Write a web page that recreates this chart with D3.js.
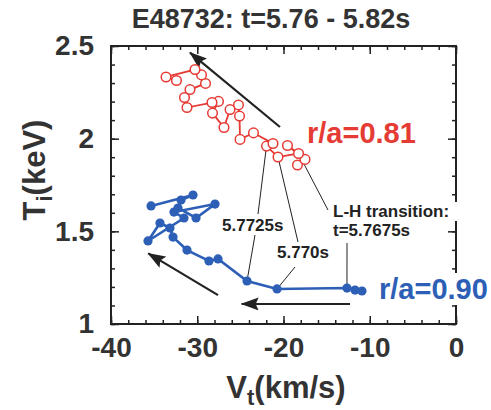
<!DOCTYPE html>
<html>
<head>
<meta charset="utf-8">
<script src="https://cdn.jsdelivr.net/npm/d3@7"></script>
<style>
  body { margin: 0; background: #fff; }
  svg { display: block; font-family: "Liberation Sans", Arial, sans-serif; font-weight: bold; }
</style>
</head>
<body>
<div id="chart"></div>
<script>
const title = "E48732: t=5.76 - 5.82s";
const xTicks = [-40, -30, -20, -10, 0];
const yTicks = [1, 1.5, 2, 2.5];

// r/a = 0.81, in time order (t = 5.76s onwards)
const redVt = [-18.38, -17.51, -19.54, -18.26, -20.64, -21.97, -21.22, -23.48, -25.04, -25.10, -25.22, -26.20,
               -26.90, -28.23, -27.54, -28.29, -31.19, -31.48, -30.84, -29.04, -29.51, -30.26, -33.62, -32.41];
const redTi = [1.858, 1.888, 1.963, 1.920, 1.901, 1.960, 1.974, 2.031, 1.996, 2.122, 2.182, 2.157,
               2.060, 2.138, 2.201, 2.195, 2.168, 2.222, 2.265, 2.298, 2.344, 2.373, 2.333, 2.314];

// r/a = 0.90
const blueVt = [-10.90, -11.71, -12.64, -20.75, -24.23, -27.59, -28.64, -31.19, -32.81, -33.16, -34.32, -35.71,
                -31.54, -32.70, -27.94, -30.14, -32.23, -31.88, -30.49, -35.36];
const blueTi = [1.178, 1.183, 1.194, 1.189, 1.232, 1.351, 1.340, 1.399, 1.469, 1.518, 1.545, 1.448,
                1.572, 1.604, 1.647, 1.572, 1.626, 1.669, 1.696, 1.637];

// index of the marked times in each series: L-H (5.7675s), 5.770s, 5.7725s
const redMarks = [3, 4, 5];
const blueMarks = [2, 3, 4];

// trend arrows [Vt0, Ti0, Vt1, Ti1]
const arrows = [
  [-20.41, 2.063, -30.84, 2.464],
  [-27.59, 1.156, -35.68, 1.381],
  [-12.29, 1.108, -24.85, 1.108]
];

const width = 491, height = 410;
const margin = { top: 46, right: 35, bottom: 86, left: 111 };
const red = "#e63b35", blue = "#2d5fb6", ink = "#333";

const svg = d3.select("#chart").append("svg")
  .attr("width", width)
  .attr("height", height);

const x = d3.scaleLinear().domain([-40, 0]).range([margin.left, width - margin.right]);
const y = d3.scaleLinear().domain([1, 2.5]).range([height - margin.bottom, margin.top]);

svg.append("defs").append("marker")
  .attr("id", "head")
  .attr("markerUnits", "userSpaceOnUse")
  .attr("viewBox", "0 0 18 13")
  .attr("refX", 17).attr("refY", 6.5)
  .attr("markerWidth", 18).attr("markerHeight", 13)
  .attr("orient", "auto")
  .append("path")
  .attr("d", "M0,0L18,6.5L0,13L3,6.5Z")
  .attr("fill", "#222");

// inward ticks on all four sides, minor and major
const xb = height - margin.bottom, xt = margin.top;
const yl = margin.left, yr = width - margin.right;
const tickStyle = g => {
  g.select(".domain").remove();
  g.selectAll("line").attr("stroke", "#222").attr("stroke-width", 1.5);
};
const xMinor = d3.range(-40, 0.1, 2), yMinor = d3.range(1, 2.51, 0.1);
const plain = d => String(d);

svg.append("g").attr("transform", `translate(0,${xb})`)
  .call(d3.axisBottom(x).tickValues(xMinor).tickSize(-4).tickFormat("")).call(tickStyle);
svg.append("g").attr("transform", `translate(0,${xb})`)
  .call(d3.axisBottom(x).tickValues(xTicks).tickSize(-8).tickPadding(13).tickFormat(plain))
  .call(tickStyle)
  .call(g => g.selectAll("text").attr("font-size", 28).attr("fill", ink).attr("font-family", null));
svg.append("g").attr("transform", `translate(0,${xt})`)
  .call(d3.axisTop(x).tickValues(xMinor).tickSize(-4).tickFormat("")).call(tickStyle);
svg.append("g").attr("transform", `translate(0,${xt})`)
  .call(d3.axisTop(x).tickValues(xTicks).tickSize(-8).tickFormat("")).call(tickStyle);

svg.append("g").attr("transform", `translate(${yl},0)`)
  .call(d3.axisLeft(y).tickValues(yMinor).tickSize(-4).tickFormat("")).call(tickStyle);
svg.append("g").attr("transform", `translate(${yl},0)`)
  .call(d3.axisLeft(y).tickValues(yTicks).tickSize(-8).tickPadding(17).tickFormat(plain))
  .call(tickStyle)
  .call(g => g.selectAll("text").attr("font-size", 28).attr("fill", ink).attr("font-family", null));
svg.append("g").attr("transform", `translate(${yr},0)`)
  .call(d3.axisRight(y).tickValues(yMinor).tickSize(-4).tickFormat("")).call(tickStyle);
svg.append("g").attr("transform", `translate(${yr},0)`)
  .call(d3.axisRight(y).tickValues(yTicks).tickSize(-8).tickFormat("")).call(tickStyle);

svg.append("rect")
  .attr("x", yl).attr("y", xt)
  .attr("width", yr - yl).attr("height", xb - xt)
  .attr("fill", "none").attr("stroke", "#222").attr("stroke-width", 2);

// title and axis titles
svg.append("text")
  .attr("x", 271).attr("y", 28)
  .attr("text-anchor", "middle")
  .attr("font-size", 27).attr("fill", ink)
  .text(title);

const xt2 = svg.append("text")
  .attr("x", 286).attr("y", 398)
  .attr("text-anchor", "middle")
  .attr("font-size", 31).attr("fill", ink);
xt2.append("tspan").text("V");
xt2.append("tspan").attr("font-size", 22).attr("dy", 7).text("t");
xt2.append("tspan").attr("dy", -7).text("(km/s)");

const yt = svg.append("text")
  .attr("transform", "translate(45,170) rotate(-90)")
  .attr("text-anchor", "middle")
  .attr("font-size", 31).attr("fill", ink);
yt.append("tspan").text("T");
yt.append("tspan").attr("font-size", 22).attr("dy", 7).text("i");
yt.append("tspan").attr("dy", -7).text("(keV)");

// leader lines from the time labels to the marked points
const rp = i => [x(redVt[redMarks[i]]), y(redTi[redMarks[i]])];
const bp = i => [x(blueVt[blueMarks[i]]), y(blueTi[blueMarks[i]])];
const leaders = [
  [[328, 210], rp(0)], [[347, 243], bp(0)],
  [[298, 242], rp(1)], [[295, 267], bp(1)],
  [[258, 214], rp(2)], [[255, 235], bp(2)]
];
svg.append("g").selectAll("line")
  .data(leaders)
  .join("line")
  .attr("x1", d => d[0][0]).attr("y1", d => d[0][1])
  .attr("x2", d => d[1][0]).attr("y2", d => d[1][1])
  .attr("stroke", "#222").attr("stroke-width", 1);

// arrows
svg.append("g").selectAll("line")
  .data(arrows)
  .join("line")
  .attr("x1", d => x(d[0])).attr("y1", d => y(d[1]))
  .attr("x2", d => x(d[2])).attr("y2", d => y(d[3]))
  .attr("stroke", "#222").attr("stroke-width", 2.2)
  .attr("marker-end", "url(#head)");

// series
const line = d3.line().x(d => x(d[0])).y(d => y(d[1]));
const redPts = d3.zip(redVt, redTi);
const bluePts = d3.zip(blueVt, blueTi);

svg.append("path").datum(redPts)
  .attr("d", line).attr("fill", "none")
  .attr("stroke", red).attr("stroke-width", 1.8);
svg.append("g").selectAll("circle")
  .data(redPts)
  .join("circle")
  .attr("cx", d => x(d[0])).attr("cy", d => y(d[1]))
  .attr("r", 4.8)
  .attr("fill", "#fff").attr("stroke", red).attr("stroke-width", 1.5);

svg.append("path").datum(bluePts)
  .attr("d", line).attr("fill", "none")
  .attr("stroke", blue).attr("stroke-width", 2.6);
svg.append("g").selectAll("circle")
  .data(bluePts)
  .join("circle")
  .attr("cx", d => x(d[0])).attr("cy", d => y(d[1]))
  .attr("r", 4.6)
  .attr("fill", blue);

// text labels with white backing
function label(tx, ty, str, size, color, pad) {
  const t = svg.append("text")
    .attr("x", tx).attr("y", ty)
    .attr("font-size", size).attr("fill", color)
    .text(str);
  if (pad) {
    const b = t.node().getBBox();
    svg.insert("rect", () => t.node())
      .attr("x", b.x - 2).attr("y", b.y)
      .attr("width", b.width + pad).attr("height", b.height)
      .attr("fill", "#fff");
  }
  return t;
}
label(333, 217, "L-H transition:", 17, "#222", 10);
label(333, 236, "t=5.7675s", 17, "#222", 0);
label(222, 231, "5.7725s", 17, "#222", 0);
label(277, 258, "5.770s", 17, "#222", 0);
label(307, 143, "r/a=0.81", 29, red, 0);
label(379, 299, "r/a=0.90", 29, blue, 4);
</script>
</body>
</html>
